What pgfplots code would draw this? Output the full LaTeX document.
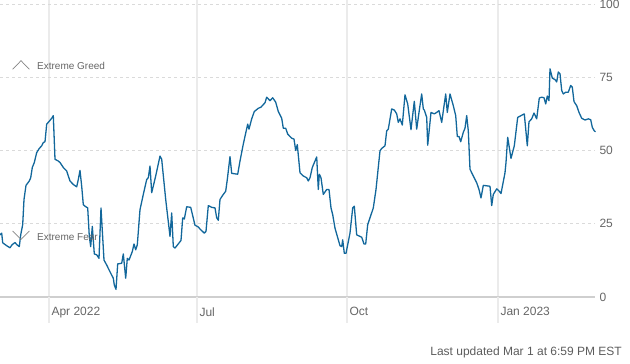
\documentclass[border=0pt]{standalone}
\usepackage{pgfplots}
\pgfplotsset{compat=1.18}
\usepackage{fontspec}
\setmainfont{Liberation Sans}
\definecolor{linec}{HTML}{12679B}
\definecolor{tickc}{HTML}{666666}
\definecolor{vgrid}{HTML}{EBEBEB}
\definecolor{hgrid}{HTML}{DADADA}
\definecolor{basec}{HTML}{CFCFCF}
\begin{document}
\begin{tikzpicture}
\path[use as bounding box] (0pt,-67pt) rectangle (630pt,297pt);
\begin{axis}[
  at={(0,0)}, anchor=south west,
  scale only axis, width=595pt, height=293pt,
  xmin=0, xmax=595, ymin=0, ymax=100,
  axis x line*=bottom, axis y line*=right,
  x axis line style={draw=basec, line width=1.4pt},
  y axis line style={draw=none},
  xtick={49,197,347,498},
  xticklabels={Apr 2022,Jul,Oct,Jan 2023},
  ytick={0,25,50,75,100},
  yticklabels={0,25,50,75,100},
  major tick length=0pt,
  xmajorgrids, ymajorgrids,
  x grid style={draw=vgrid, line width=1.1pt},
  y grid style={draw=hgrid, line width=0.8pt, dash pattern=on 3pt off 3pt},
  tick label style={font=\fontsize{12}{14}\selectfont, text=tickc},
  xticklabel style={anchor=north west, xshift=-1pt, yshift=-7pt},
  yticklabel style={anchor=west, xshift=1pt},
  clip=false,
]
\addplot[linec, line width=1.3pt, line join=round] coordinates {
(0,21.2) (1.7,21.8) (2.7,18.5) (6.7,17.5) (10,16.8) (12,17.8) (15,18.6) (17,17.8) (19.3,17.2) (20.7,21.2)
(22.7,24.7) (24,33.3) (26,38.1) (29.3,39.6) (30.7,40.7) (32.3,44.2) (34.3,45.9) (36.7,49.3) (39.3,50.7) (41.7,51.6)
(43.3,52.7) (45,53) (46.7,59) (49.3,60) (51.7,61) (53.3,61.9) (55,47) (58.3,46.4) (60,45.9) (63.3,44.2)
(66.7,43) (68.3,41.3) (70,39.6) (73.3,38.4) (76.7,37.6) (78.3,40.1) (80,43.2) (81.7,37.8) (83.3,31.5) (85,31)
(87.7,30.4) (89.3,20.7) (90.7,17.2) (92.3,24.1) (94.3,14.7) (96.7,14.4) (99,13.2) (101,30.4) (104,12.6) (106.7,10.9)
(110,8.6) (113.3,6.4) (114.3,4.1) (116,2.6) (117.7,11.3) (121.7,11.5) (123.3,14.7) (125.7,6.4) (127.3,13.2) (129,12.6)
(132.3,15.5) (134,18.1) (135.7,16.1) (137.3,17.8) (140,29.8) (143.3,35) (146.7,40.1) (148.3,40.7) (150,44.7) (151.7,35.6)
(155.7,41.3) (160,48.1) (161.7,47) (165.7,33.3) (170,20.7) (171.7,28.7) (173.3,17.2) (175,16.7) (181,19.3) (182.7,27)
(184.3,26.6) (186.7,30.8) (190.7,30.6) (195,24.5) (198.3,23.9) (200,23.2) (204.3,21.8) (206,22.4) (208.3,31.2) (211.7,30.6)
(215,30.4) (216.7,27) (218.3,26.2) (220,33.3) (223.3,35) (225.7,36.1) (227.3,40.1) (230,47.9) (231.7,42.2) (237.7,41.9)
(240,46.4) (243.3,52.2) (247.7,59) (249,57.3) (251.7,60.8) (254.3,63.3) (258.3,64.4) (261,64.8) (265,66.3) (266.7,68.2)
(270,67) (272.7,68) (275.7,66.5) (278.3,63.3) (281.7,61) (283.3,57.6) (285.7,57.6) (287.7,55.6) (291.7,54.2) (294,53.9)
(295.7,50) (297.3,52) (300,42.4) (303.3,41.3) (306.7,40.7) (308.3,39.6) (310,40.7) (312.3,44.2) (316.7,47.8) (318.3,36.7)
(319.3,41.9) (321,40.7) (323.3,35) (326.7,36.7) (329,36.7) (331,30.4) (332.7,28.1) (335,23.5) (340,17.5) (341.7,17.2)
(342.7,19.5) (344.3,14.9) (346,14.9) (350,21.8) (352.7,30.4) (354.3,31) (356.7,21.2) (361.7,20.4) (364,18.1) (365.7,18.1)
(367.7,24.7) (373.3,30.4) (376,36.7) (380,49.9) (381.7,50.7) (385,51.6) (386.7,56.7) (388.3,57.3) (391.7,64.2) (394.3,63.8)
(396.7,62.5) (398.3,59.6) (400,60.8) (402.3,58.7) (405,69) (407.7,65.9) (411,57.1) (414.3,66.8) (416.7,57.3) (419,63)
(421.7,69.3) (423.3,64.2) (424.3,63.8) (426.7,61.3) (427.7,51.8) (431,63) (434.3,62.5) (436.7,63) (439,63.6) (441.7,59.6)
(445.7,69.3) (447.3,63) (450,69.3) (453.3,65.3) (455.7,61.9) (457.3,54.8) (459,54.8) (460.7,53) (463.3,56.2) (465,57.6)
(466.7,61.9) (468.3,56.7) (470,43.6) (473.3,41.3) (476.7,39) (479,36.7) (481,33.8) (483.3,38.1) (490,37.8) (491.7,31.2)
(493.3,35) (496.7,36.9) (499.3,36.1) (501,35.3) (505,42.4) (506,45.9) (507.7,54.5) (511,47.3) (514.3,51.6) (517.7,61.3)
(521,61.9) (524.3,62.5) (527.3,51.6) (529,59.8) (531.7,60.8) (534,62.8) (536.7,60.8) (539.3,67.9) (541.7,68.2) (544,68)
(545.7,65.9) (547.3,68.6) (549,67) (550,77.9) (552.3,74.7) (555,74.2) (556.7,73.4) (558.3,76.8) (560,76.2) (561.7,70.5)
(563.3,69.3) (565.7,69.9) (568.3,69.9) (570.7,72.2) (572.3,71.6) (574,66.7) (576.7,65.3) (579,63) (581.7,61) (585,60.4)
(588.3,60.8) (590.7,60.5) (592.3,57.9) (594.3,56.7) (595.5,56.4)
};
\end{axis}
% vertical grid extensions below baseline
\foreach \gx in {49,197,347,498} {
  \draw[vgrid, line width=1.1pt] (\gx pt,0pt) -- (\gx pt,-26pt);
  \draw[vgrid, line width=1.1pt] (\gx pt,293pt) -- (\gx pt,297pt);
}
% zone annotations
\draw[tickc!80, line width=0.7pt] (12.7pt,227.7pt) -- (21pt,236.3pt) -- (29.3pt,227.7pt);
\node[anchor=west, inner sep=0pt, text=tickc, font=\fontsize{10}{12}\selectfont] at (37pt,231pt) {Extreme Greed};
\draw[tickc!80, line width=0.7pt] (12.7pt,66pt) -- (21pt,57.7pt) -- (29.3pt,66pt);
\node[anchor=west, inner sep=0pt, text=tickc, font=\fontsize{10}{12}\selectfont] at (37pt,59.7pt) {Extreme Fear};
\node[anchor=east, inner sep=0pt, text=tickc!90!black, font=\fontsize{12}{14}\selectfont] at (622pt,-55pt) {Last updated Mar 1 at 6:59 PM EST};
\end{tikzpicture}
\end{document}
